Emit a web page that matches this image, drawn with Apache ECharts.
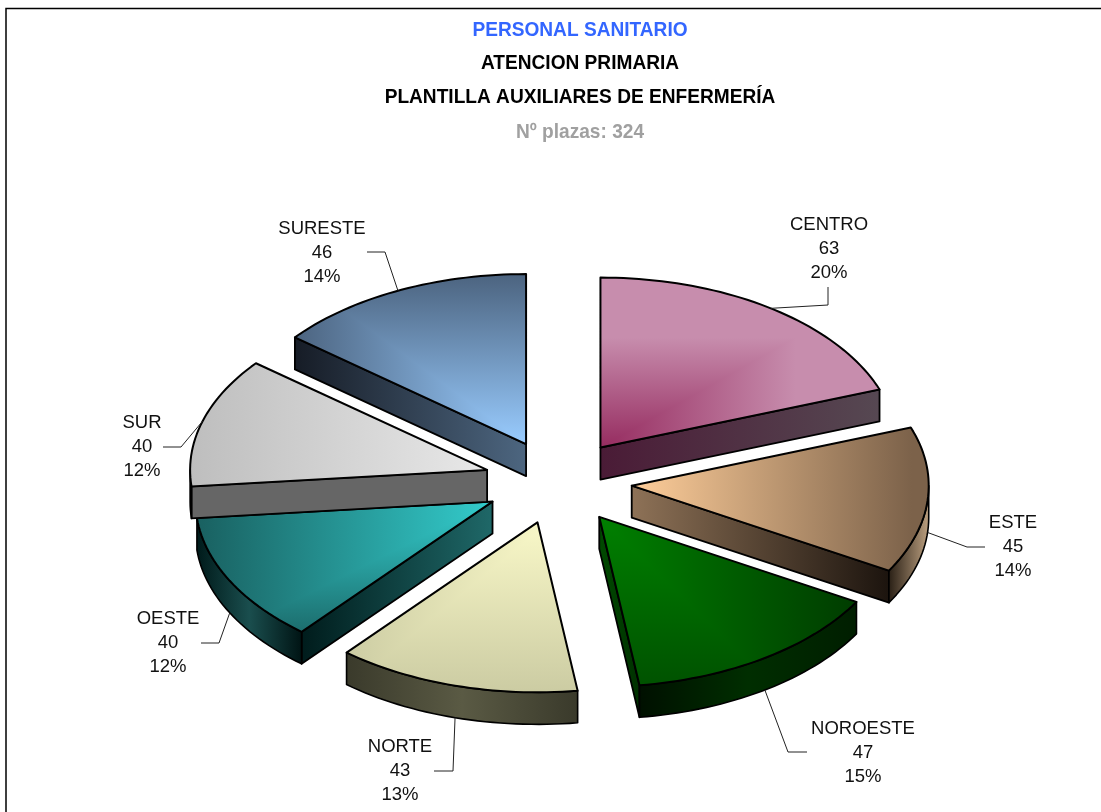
<!DOCTYPE html>
<html>
<head>
<meta charset="utf-8">
<style>html,body{margin:0;padding:0;background:#fff}#c{width:1101px;height:812px}</style>
<script src="https://cdn.jsdelivr.net/npm/echarts@6/dist/echarts.min.js"></script>
</head>
<body>
<div id="c"></div>
<script>
// ---- data ----
const categories = ['CENTRO', 'ESTE', 'NOROESTE', 'NORTE', 'OESTE', 'SUR', 'SURESTE'];
const plazas = [63, 45, 47, 43, 40, 40, 46];
const percentLabels = ['20%', '14%', '15%', '13%', '12%', '12%', '14%'];
const titles = ['PERSONAL SANITARIO', 'ATENCION PRIMARIA', 'PLANTILLA AUXILIARES DE ENFERMERÍA', 'Nº plazas: 324'];

// ---- layout (pie projection) ----
const CX = 558, CY = 482, RX = 297, RY = 170, EX = 74, EY = 42, DEPTH = 32;
// label centre (middle line) and leader elbow / end for each slice
const labelCentres = [[829, 249], [1013, 547], [863, 753], [400, 771], [168, 643], [142, 447], [322, 253]];
const leaderElbows = [[[828, 305], [828, 287]], [[967, 547], [985, 547]], [[788, 752], [807, 752]],
  [[453, 771], [434, 771]], [[219, 643], [201, 643]], [[181, 447], [163, 447]], [[385, 252], [367, 252]]];

// ---- styles ----
const topStyles = [
  {focus: [0, 0], rx: 195, ry: 110, sx: 1, sy: -1, from: '#962C60', to: '#C78DAD'},
  {linear: [0, 280], stops: ['#FFCE9A', '#7C624A']},
  {focus: [0, 0], rx: 257, ry: 250, sx: 1, sy: 1, from: '#008000', to: '#003C00'},
  {focus: [12, 0], rx: 205, ry: 168, sx: -1, sy: 1, from: '#F9F8C8', to: '#CCCCA3'},
  {focus: [0, 0], rx: 296, ry: 148, sx: -1, sy: 1, from: '#33CCCC', to: '#196060'},
  {linear: [0, -296], stops: ['#E8E8E8', '#BEBEBE']},
  {focus: [0, 0], rx: 230, ry: 169, sx: -1, sy: -1, from: '#99CCFF', to: '#4C6480'}
];
const wallStyles = [
  ['#4A1B36', '#564852'], ['#8E7257', '#1C140E'], ['#004A00', '#003000'], null,
  ['#001C1C', '#1F6868'], ['#666666', '#666666'], ['#161C26', '#4D6680']
];
const rimStyles = [
  null, ['#BCA080', '#2A2016'], ['#001E00', '#002E00', '#001000'], ['#3A3A2B', '#5A5A44', '#3A3A2B'],
  ['#001414', '#1A4E4E', '#001A1A'], ['#222222', '#222222'], null
];

const total = plazas.reduce((a, b) => a + b, 0);
const LG = echarts.graphic.LinearGradient;
const rad = d => d * Math.PI / 180;
const onRim = (o, deg, dy) => [o[0] + RX * Math.sin(rad(deg)), o[1] - RY * Math.cos(rad(deg)) + (dy || 0)];
const evenStops = cs => cs.map((c, i) => ({offset: i / (cs.length - 1), color: c}));

function sampleArc(o, a, b, dy) {
  const n = Math.max(2, Math.ceil(Math.abs(b - a) / 1.5)), pts = [];
  for (let i = 0; i <= n; i++) pts.push(onRim(o, a + (b - a) * i / n, dy));
  return pts;
}
// keep the part of a polygon on one side of the line through p with direction d
function clipHalf(poly, p, d, sign) {
  const side = q => sign * (d[0] * (q[1] - p[1]) - d[1] * (q[0] - p[0]));
  const out = [];
  poly.forEach((q, i) => {
    const r = poly[(i + 1) % poly.length], s1 = side(q), s2 = side(r);
    if (s1 >= 0) out.push(q);
    if (s1 * s2 < 0) {
      const t = s1 / (s1 - s2);
      out.push([q[0] + (r[0] - q[0]) * t, q[1] + (r[1] - q[1]) * t]);
    }
  });
  return out;
}
const poly = (points, fill, stroke, lw) => ({
  type: 'polygon', shape: {points},
  style: {fill, stroke: stroke || null, lineWidth: lw || 0, lineJoin: 'round'}
});

function renderSlice(params, api) {
  const i = params.dataIndex;
  const value = api.value(0);
  let before = 0;
  for (let k = 0; k < i; k++) before += plazas[k];
  const a = before / total * 360, b = (before + value) / total * 360, mid = (a + b) / 2;
  const o = [CX + EX * Math.sin(rad(mid)), CY - EY * Math.cos(rad(mid))];
  const children = [];
  const down = q => [q[0], q[1] + DEPTH];

  // radial wall
  const wallAngle = Math.sin(rad(b)) > 0.001 ? b : (Math.sin(rad(a)) < -0.001 ? a : null);
  if (wallAngle !== null && wallStyles[i]) {
    const e = onRim(o, wallAngle);
    const x0 = Math.min(o[0], e[0]), x1 = Math.max(o[0], e[0]);
    const fill = new LG(x0, 0, x1, 0, evenStops(wallStyles[i]), true);
    children.push(poly([o, e, down(e), down(o)], fill, '#000', 1.8));
  }
  // outer rim
  const r0 = Math.max(a, 90), r1 = Math.min(b, 270);
  if (r1 > r0 && rimStyles[i]) {
    const arc = sampleArc(o, r0, r1), low = arc.map(down).reverse();
    const xs = arc.map(q => q[0]);
    const fill = new LG(Math.max(...xs), 0, Math.min(...xs), 0, evenStops(rimStyles[i]), true);
    children.push(poly(arc.concat(low), fill, '#000', 1.6));
  }
  // top face
  const face = [o].concat(sampleArc(o, a, b));
  const st = topStyles[i];
  if (st.linear) {
    const fill = new LG(o[0] + st.linear[0], 0, o[0] + st.linear[1], 0, evenStops(st.stops), true);
    children.push(poly(face, fill));
  } else {
    const f = [o[0] + st.focus[0], o[1] + st.focus[1]];
    const dir = [st.sx * st.rx, st.sy * st.ry];
    const gH = new LG(f[0], 0, f[0] + st.sx * st.rx, 0, evenStops([st.from, st.to]), true);
    const gV = new LG(0, f[1], 0, f[1] + st.sy * st.ry, evenStops([st.from, st.to]), true);
    // the whole face takes the vertical ramp; the side of the diagonal nearer
    // the horizontal axis is then painted over with the horizontal ramp
    const hSign = (st.sx * st.sy > 0) ? -1 : 1;
    const hPart = clipHalf(face, f, dir, hSign);
    children.push(poly(face, gV));
    if (hPart.length > 2) children.push(poly(hPart, gH));
  }
  children.push(poly(face, 'none', '#000', 2));

  // leader line
  const startDy = (mid > 90 && mid < 270) ? DEPTH : 0;
  children.push({
    type: 'polyline',
    shape: {points: [onRim(o, mid, startDy)].concat(leaderElbows[i])},
    style: {stroke: '#222', lineWidth: 1, fill: null}
  });
  // label
  const lc = labelCentres[i];
  [categories[i], String(value), percentLabels[i]].forEach((t, n) => {
    children.push({
      type: 'text', x: lc[0], y: lc[1] + (n - 1) * 24,
      style: {
        text: t, fill: '#111', font: '18.5px "Liberation Sans", Arial, sans-serif',
        align: 'center', verticalAlign: 'middle'
      }
    });
  });
  return {type: 'group', children};
}

const titleColors = ['#3366FF', '#000000', '#000000', '#A0A0A0'];
const titleRows = [30, 63, 97, 132];
const chart = echarts.init(document.getElementById('c'), null, {renderer: 'canvas'});
chart.setOption({
  animation: false,
  backgroundColor: '#ffffff',
  graphic: [{
    type: 'rect', silent: true, z: -1,
    shape: {x: 6, y: 8.5, width: 1300, height: 1000},
    style: {fill: 'none', stroke: '#000', lineWidth: 1.5}
  }].concat(titles.map((t, i) => ({
    type: 'text', silent: true, x: 580, y: titleRows[i], scaleX: 0.91,
    style: {
      text: t, fill: titleColors[i], align: 'center', verticalAlign: 'middle',
      font: 'bold 21px "Liberation Sans", Arial, sans-serif'
    }
  }))),
  series: [{
    type: 'custom', coordinateSystem: 'none', clip: false,
    data: plazas.map((v, i) => ({name: categories[i], value: [v]})),
    encode: {value: 0},
    renderItem: renderSlice
  }]
});
</script>
</body>
</html>
